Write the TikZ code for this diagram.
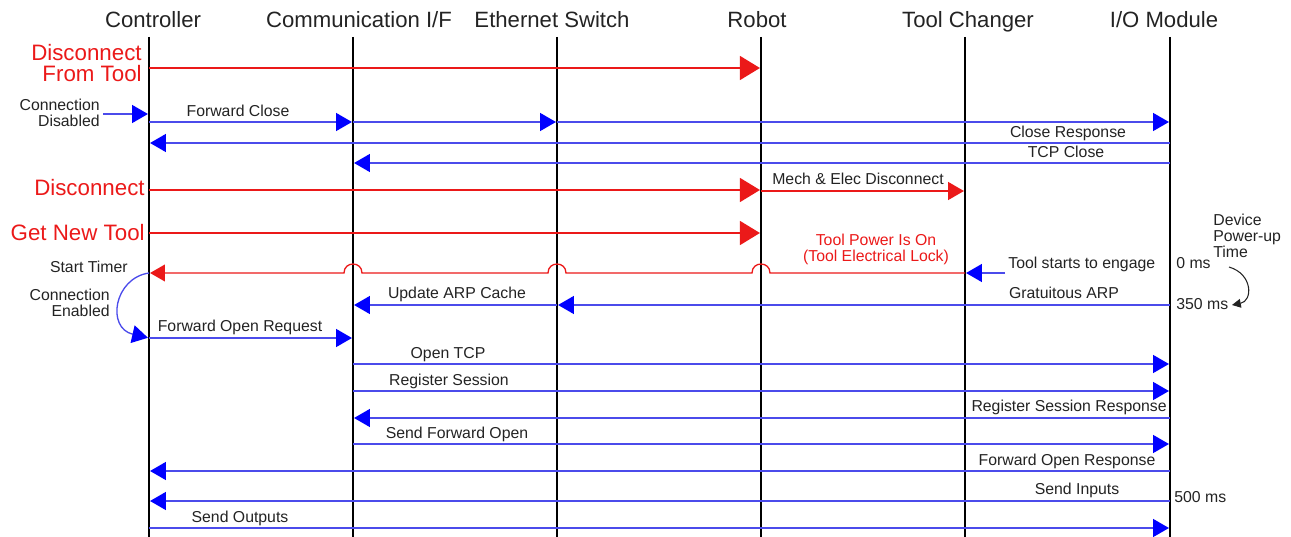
\documentclass[tikz,border=0pt]{standalone}
\usepackage{fontspec}
\setmainfont{Liberation Sans}
\usetikzlibrary{arrows.meta}
\definecolor{msgblue}{RGB}{75,75,235}
\definecolor{tipblue}{RGB}{0,0,255}
\definecolor{sigred}{RGB}{235,25,25}
\definecolor{txtgray}{RGB}{35,35,35}
\begin{document}
\begin{tikzpicture}[x=0.02cm, y=-0.02cm,
  every node/.style={inner sep=0pt, text=txtgray},
  head/.style={font=\fontsize{12.6}{14}\selectfont, text height=9pt, text depth=0pt},
  lbl/.style={font=\fontsize{9}{10}\selectfont, text height=6.5pt, text depth=1.9pt},
  redsm/.style={lbl, text=sigred},
  redlbl/.style={font=\fontsize{12.7}{15}\selectfont, text=sigred, text height=9.1pt, text depth=0pt},
  life/.style={line width=1.5pt, black},
  msg/.style={draw=msgblue, line width=0.75pt, shorten >=0.6pt, -{Triangle[length=9pt, width=10.2pt, color=tipblue]}},
  redmsg/.style={draw=sigred, line width=1.1pt, shorten >=0.6pt, -{Triangle[length=11.4pt, width=13.6pt]}},
  redthin/.style={draw=sigred, line width=0.75pt, shorten >=0.6pt, -{Triangle[length=8.5pt, width=9.6pt]}}]
  \useasboundingbox (0,0) rectangle (1291,537);
  % lifelines
  \foreach \nm/\x/\hx/\txt in {ctrl/149/153/Controller, comm/353/359/{Communication I/F}, eth/557/552/{Ethernet Switch}, rob/761/757/Robot, tch/965/968/{Tool Changer}, iom/1170/1164/{I/O Module}} {
    \node[head] (\nm-head) at (\hx,20) {\txt};
    \coordinate (\nm) at (\x,37);
    \coordinate (\nm-end) at (\x,537);
    \draw[life] (\nm) -- (\nm-end);
  }
  % blue messages
  \foreach \a/\b/\y in {ctrl/comm/122, comm/eth/122, eth/iom/122, iom/ctrl/143, iom/comm/163, iom/eth/305, eth/comm/305, ctrl/comm/338, comm/iom/364, comm/iom/391, iom/comm/418, comm/iom/444, iom/ctrl/471, iom/ctrl/501, ctrl/iom/528}
    \draw[msg] (\a |- 0,\y) -- (\b |- 0,\y);
  \coordinate (cdis) at (103,114);
  \draw[msg] (cdis) -- (ctrl |- cdis);
  \coordinate (tse) at (1005,273);
  \draw[msg] (tse) -- (tch |- tse);
  \draw[msg] (ctrl |- 0,273) .. controls (114,278) and (106,328) .. (ctrl |- 0,338);
  % red messages
  \draw[redmsg] (ctrl |- 0,68) -- (rob |- 0,68);
  \draw[redmsg] (ctrl |- 0,190) -- (rob |- 0,190);
  \draw[redthin, -{Triangle[length=9pt, width=10.2pt]}] (rob |- 0,191) -- (tch |- 0,191);
  \draw[redmsg] (ctrl |- 0,233) -- (rob |- 0,233);
  \draw[redthin] (tch |- 0,273) -- (770,273) .. controls +(0,-12) and +(0,-12) .. (752,273)
    -- (566,273) .. controls +(0,-12) and +(0,-12) .. (548,273)
    -- (362,273) .. controls +(0,-12) and +(0,-12) .. (344,273) -- (ctrl |- 0,273);
  % power-up time
  \draw[txtgray, line width=0.6pt, -{Triangle[length=5pt, width=5pt]}] (1229,267) .. controls (1253,274) and (1253,301) .. (1232,305);
  % labels
  \foreach \nm/\x/\y/\anc/\txt in {cdis1/100/106/east/Connection, cdis2/100/122/east/Disabled, fclose/238/112/center/{Forward Close}, cresp/1068/133/center/{Close Response}, tcpc/1066/153/center/{TCP Close}, mech/858/180/center/{Mech \& Elec Disconnect}, tstart/1008/264/west/{Tool starts to engage}, stimer/128/268/east/{Start Timer}, garp/1064/294/center/{Gratuitous ARP}, uarp/457/294/center/{Update ARP Cache}, cen1/110/296/east/Connection, cen2/110/312/east/Enabled, foreq/240/327/center/{Forward Open Request}, otcp/448/354/center/{Open TCP}, rsess/449/381/center/{Register Session}, rresp/1167/407/east/{Register Session Response}, sfo/457/434/center/{Send Forward Open}, foresp/1067/461/center/{Forward Open Response}, sinp/1077/490/center/{Send Inputs}, sout/240/518/center/{Send Outputs}, t0/1176/264/west/{0 ms}, t350/1176/305/west/{350 ms}, t500/1174/498/west/{500 ms}, dev1/1213/221/west/Device, dev2/1213/237/west/Power-up, dev3/1213/253/west/Time}
    \node[lbl, anchor=\anc] (\nm) at (\x,\y) {\txt};
  \node[redsm] (tpow1) at (876,241) {Tool Power Is On};
  \node[redsm] (tpow2) at (876,257) {(Tool Electrical Lock)};
  \foreach \nm/\x/\y/\txt in {dft1/142/53/Disconnect, dft2/142/74/{From Tool}, disc/145/188/Disconnect, gnt/145/233/{Get New Tool}}
    \node[redlbl, anchor=east] (\nm) at (\x,\y) {\txt};
\end{tikzpicture}
\end{document}
